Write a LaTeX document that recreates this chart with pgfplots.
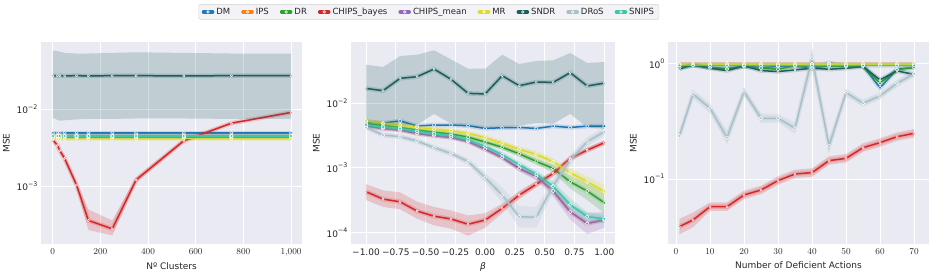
\documentclass[border=0pt]{standalone}
\usepackage{fontspec}
\setmainfont{DejaVu Sans}
\usepackage{pgfplots}
\usepackage{pgfplotstable}
\pgfplotsset{compat=1.18}

\definecolor{bgc}{HTML}{EAEAF2}
\definecolor{cDM}{HTML}{1F77B4}
\definecolor{cIPS}{HTML}{FF7F0E}
\definecolor{cDR}{HTML}{2CA02C}
\definecolor{cCB}{HTML}{D62728}
\definecolor{cCM}{HTML}{9467BD}
\definecolor{cMR}{HTML}{DBDB2A}
\definecolor{cSN}{HTML}{1B5E5C}
\definecolor{cRO}{HTML}{A8C0C8}
\definecolor{cSP}{HTML}{3CC7A8}
\definecolor{txt}{HTML}{262626}

\pgfplotstableread{
x dm ips dr cb cm mr sn ro sp
1    0.0049 0.0046 0.0043 0.0040  0.0045 0.00415 0.0273 0.0044 0.0045
20   0.0049 0.0046 0.0043 0.0034  0.0045 0.00415 0.0272 0.0044 0.0045
30   0.0049 0.0046 0.0043 0.0029  0.0045 0.00415 0.0273 0.0044 0.0045
50   0.0049 0.0046 0.0043 0.0023  0.0045 0.00415 0.0272 0.0044 0.0045
100  0.0049 0.0046 0.0043 0.00104 0.0045 0.00415 0.0273 0.0044 0.0045
150  0.0049 0.0046 0.0043 0.00036 0.0045 0.00415 0.0272 0.0044 0.0045
250  0.0049 0.0046 0.0043 0.00028 0.0045 0.00415 0.0273 0.0044 0.0045
350  0.0049 0.0046 0.0043 0.00121 0.0045 0.00415 0.0273 0.0044 0.0045
550  0.0049 0.0046 0.0043 0.0039  0.0045 0.00415 0.0272 0.0044 0.0045
750  0.0049 0.0046 0.0043 0.0066  0.0045 0.00415 0.0273 0.0044 0.0045
1000 0.0049 0.0046 0.0043 0.0091  0.0045 0.00415 0.0273 0.0044 0.0045
}\Pone

\pgfplotstableread{
x dm ips dr cb cm mr sn ro sp
-1     0.00515 0.00442  0.00486 0.00043  0.00442  0.00528 0.0168 0.00422  0.00458
-0.857 0.0049  0.00406  0.00452 0.00033  0.00406  0.00486 0.0155 0.00321  0.00425
-0.714 0.0053  0.00385  0.00422 0.0003   0.00385  0.00458 0.024  0.00303  0.00405
-0.571 0.00442 0.0034   0.00385 0.000216 0.0034   0.00422 0.0255 0.0026   0.00365
-0.429 0.00458 0.00314  0.00356 0.00018  0.00314  0.00393 0.0334 0.00205  0.00335
-0.286 0.00458 0.00296  0.00333 0.000163 0.00296  0.00374 0.0232 0.00167  0.00315
-0.143 0.00447 0.00256  0.00298 0.000135 0.00256  0.0034  0.0141 0.00125  0.0027
0      0.00406 0.00195  0.0025  0.000157 0.00195  0.00292 0.0138 0.00071  0.00215
0.143  0.00416 0.00145  0.00208 0.000237 0.00145  0.00239 0.0264 0.00038  0.0016
0.286  0.0042  0.00098  0.00165 0.00038  0.00098  0.00193 0.0185 0.000177 0.00112
0.429  0.00406 0.00074  0.00126 0.00056  0.00074  0.00161 0.0211 0.000173 0.0008
0.571  0.0044  0.00044  0.00098 0.00082  0.00044  0.00124 0.0208 0.00053  0.00052
0.714  0.0042  0.00021  0.00061 0.0014   0.00021  0.00084 0.0294 0.00132  0.00027
0.857  0.0044  0.000139 0.00044 0.00188  0.000139 0.00061 0.0183 0.00254  0.000177
1      0.0044  0.000158 0.00029 0.00244  0.000158 0.00043 0.0203 0.00361  0.000164
}\Ptwo

\pgfplotstableread{
x dm ips dr cb cm mr sn ro sp
1  0.93 0.995 0.93  0.0385 0.99 1.0 0.905 0.237 0.97
5  0.98 0.995 0.97  0.044  0.99 1.0 0.98  0.548 0.97
10 0.93 0.995 0.93  0.0574 0.99 1.0 0.917 0.412 0.97
15 0.91 0.995 0.90  0.0574 0.99 1.0 0.875 0.229 0.97
20 0.96 0.995 0.95  0.0726 0.99 1.0 0.961 0.574 0.97
25 0.93 0.995 0.92  0.0802 0.99 1.0 0.875 0.337 0.97
30 0.95 0.995 0.90  0.0968 0.99 1.0 0.858 0.337 0.97
35 0.96 0.995 0.96  0.1105 0.99 1.0 0.887 0.276 0.97
40 0.93 0.995 0.92  0.1135 0.99 1.0 0.917 1.12  0.97
45 1.02 0.995 0.96  0.1443 0.99 1.0 0.899 0.194 0.97
50 0.96 0.995 0.95  0.151  0.99 1.0 0.917 0.563 0.97
55 0.96 0.995 0.96  0.187  0.99 1.0 0.948 0.455 0.97
60 0.62 0.995 0.68  0.207  0.99 1.0 0.726 0.527 0.97
65 0.90 0.995 0.89  0.233  0.99 1.0 0.87  0.679 0.97
70 0.93 0.995 0.935 0.249  0.99 1.0 0.81  0.82  0.97
}\Pthree

% line with a soft underlay (thin confidence band)
\newcommand{\ser}[4]{%
  \addplot[#3, line width=4.5pt, opacity=0.18, forget plot] table[x=x,y=#2]{#1};
  \addplot[#3, line width=1.5pt, mark=*, mark size=#4,
    mark options={fill=#3, draw=white, line width=0.45pt}] table[x=x,y=#2]{#1};
}
\newcommand{\band}[2]{\addplot[fill=#1, fill opacity=0.2, draw=none, forget plot] coordinates {#2};}

\pgfplotsset{every axis/.append style={
  scale only axis, height=202pt, anchor=south west,
  axis background/.style={fill=bgc},
  axis line style={draw=none}, major tick length=0pt, minor tick length=0pt,
  xmajorgrids, ymajorgrids, major grid style={white, line width=0.8pt},
  tick label style={font=\fontsize{9}{10.5}\selectfont, text=txt},
  label style={font=\fontsize{9}{10.5}\selectfont, text=txt},
  xticklabel style={yshift=-1pt},
  ylabel={MSE},
}}

\begin{document}
\begin{tikzpicture}
\path[use as bounding box] (0pt,0pt) rectangle (934pt,274pt);

% ---------------- Panel 1 ----------------
\begin{axis}[ymode=log, at={(41pt,30pt)}, width=261pt,
  xmin=-49, xmax=1046, ymin=1.78e-4, ymax=0.0748,
  xtick={0,200,400,600,800,1000},
  ytick={0.001,0.01},
  yticklabels={10\raisebox{0.5em}{\fontsize{6.3}{6.3}\selectfont −3},10\raisebox{0.5em}{\fontsize{6.3}{6.3}\selectfont −2}},
  xlabel={Nº Clusters}]
\ser{\Pone}{dm}{cDM}{1.7pt}
\ser{\Pone}{ips}{cIPS}{1.7pt}
\ser{\Pone}{dr}{cDR}{1.7pt}
\band{cCB}{(1,0.0042)(20,0.0036)(30,0.0031)(50,0.0025)(100,0.00114)(150,0.0005)(250,0.00036)(350,0.00131)(550,0.0041)(750,0.0068)(1000,0.0093)
 (1000,0.0089)(750,0.0064)(550,0.0037)(350,0.00112)(250,0.00023)(150,0.00027)(100,0.00095)(50,0.0021)(30,0.0027)(20,0.0032)(1,0.0038)}
\ser{\Pone}{cb}{cCB}{1.1pt}
\ser{\Pone}{cm}{cCM}{1.7pt}
\ser{\Pone}{mr}{cMR}{1.7pt}
\band{cSN}{(1,0.058)(20,0.057)(30,0.056)(50,0.054)(100,0.053)(150,0.053)(250,0.054)(350,0.055)(550,0.054)(750,0.053)(1000,0.053)
 (1000,0.0075)(750,0.0075)(550,0.0076)(350,0.0076)(250,0.0075)(150,0.0075)(100,0.0074)(50,0.0072)(30,0.0071)(20,0.0073)(1,0.0077)}
\ser{\Pone}{sn}{cSN}{1.1pt}
\ser{\Pone}{ro}{cRO}{1.7pt}
\ser{\Pone}{sp}{cSP}{1.7pt}
\end{axis}

% ---------------- Panel 2 ----------------
\begin{axis}[ymode=log, at={(351pt,30pt)}, width=264pt,
  xmin=-1.126, xmax=1.09, ymin=6.7e-5, ymax=0.0873,
  xtick={-1,-0.75,-0.5,-0.25,0,0.25,0.5,0.75,1},
  xticklabels={−1.00,−0.75,−0.50,−0.25,0.00,0.25,0.50,0.75,1.00},
  ytick={0.0001,0.001,0.01},
  yticklabels={10\raisebox{0.5em}{\fontsize{6.3}{6.3}\selectfont −4},10\raisebox{0.5em}{\fontsize{6.3}{6.3}\selectfont −3},10\raisebox{0.5em}{\fontsize{6.3}{6.3}\selectfont −2}},
  xlabel={\itshape β},
  legend columns=9,
  legend style={at={(0.295,1.149)}, anchor=center, draw=black!18, fill=bgc!60!white,
    rounded corners=2pt, font=\fontsize{8.5}{10}\selectfont, text=txt,
    inner xsep=3pt, inner ysep=1.5pt,
    /tikz/every even column/.append style={column sep=9pt}},
  legend image code/.code={%
    \draw[#1, mark=none, line width=3.6pt, line cap=round] (0pt,0pt) -- (9pt,0pt);
    \draw[white, line width=0.6pt] (4.5pt,0pt) circle (1.3pt);}]
\ser{\Ptwo}{dm}{cDM}{1.7pt}\addlegendentry{DM}
\ser{\Ptwo}{ips}{cIPS}{1.7pt}\addlegendentry{IPS}
\band{cDR}{(-1,0.00515)(-0.857,0.00479)(-0.714,0.00447)(-0.571,0.00408)(-0.429,0.00377)(-0.286,0.00353)(-0.143,0.00316)(0,0.00268)(0.143,0.00225)(0.286,0.0018)(0.429,0.0014)(0.571,0.00112)(0.714,0.00075)(0.857,0.00058)(1,0.0004)
 (1,0.0002)(0.857,0.00032)(0.714,0.00048)(0.571,0.00085)(0.429,0.00112)(0.286,0.0015)(0.143,0.00192)(0,0.00233)(-0.143,0.0028)(-0.286,0.00313)(-0.429,0.00335)(-0.571,0.00362)(-0.714,0.00397)(-0.857,0.00425)(-1,0.00457)}
\ser{\Ptwo}{dr}{cDR}{1.7pt}\addlegendentry{DR}
\band{cCB}{(-1,0.00056)(-0.857,0.00045)(-0.714,0.00042)(-0.571,0.0003)(-0.429,0.00025)(-0.286,0.00022)(-0.143,0.000185)(0,0.0002)(0.143,0.00028)(0.286,0.00044)(0.429,0.00063)(0.571,0.0009)(0.714,0.00153)(0.857,0.00205)(1,0.00265)
 (1,0.00225)(0.857,0.00173)(0.714,0.00128)(0.571,0.00074)(0.429,0.0005)(0.286,0.00033)(0.143,0.0002)(0,0.00012)(-0.143,0.00009)(-0.286,0.000115)(-0.429,0.00013)(-0.571,0.000165)(-0.714,0.00023)(-0.857,0.00025)(-1,0.00032)}
\ser{\Ptwo}{cb}{cCB}{1.1pt}\addlegendentry{CHIPS\_bayes}
\band{cCM}{(-1,0.00469)(-0.857,0.0043)(-0.714,0.00408)(-0.571,0.0036)(-0.429,0.00333)(-0.286,0.00314)(-0.143,0.00272)(0,0.00209)(0.143,0.00158)(0.286,0.00109)(0.429,0.00085)(0.571,0.00054)(0.714,0.00028)(0.857,0.0002)(1,0.00021)
 (1,0.00012)(0.857,0.000095)(0.714,0.00016)(0.571,0.00036)(0.429,0.00064)(0.286,0.00088)(0.143,0.00133)(0,0.00181)(-0.143,0.0024)(-0.286,0.00278)(-0.429,0.00295)(-0.571,0.0032)(-0.714,0.00362)(-0.857,0.00382)(-1,0.00415)}
\ser{\Ptwo}{cm}{cCM}{1.7pt}\addlegendentry{CHIPS\_mean}
\band{cMR}{(-1,0.00565)(-0.857,0.0052)(-0.714,0.0049)(-0.571,0.00452)(-0.429,0.00421)(-0.286,0.004)(-0.143,0.00364)(0,0.00321)(0.143,0.00263)(0.286,0.00212)(0.429,0.00182)(0.571,0.0014)(0.714,0.00099)(0.857,0.00074)(1,0.00055)
 (1,0.00034)(0.857,0.00048)(0.714,0.00069)(0.571,0.00108)(0.429,0.0014)(0.286,0.00174)(0.143,0.00215)(0,0.00263)(-0.143,0.00316)(-0.286,0.00348)(-0.429,0.00365)(-0.571,0.00392)(-0.714,0.00426)(-0.857,0.00452)(-1,0.00491)}
\ser{\Ptwo}{mr}{cMR}{1.7pt}\addlegendentry{MR}
\band{cSN}{(-1,0.039)(-0.857,0.036)(-0.714,0.053)(-0.571,0.0556)(-0.429,0.065)(-0.286,0.047)(-0.143,0.0338)(0,0.0338)(0.143,0.0556)(0.286,0.04)(0.429,0.0445)(0.571,0.0456)(0.714,0.059)(0.857,0.0414)(1,0.043)
 (1,0.004)(0.857,0.0042)(0.714,0.0068)(0.571,0.0048)(0.429,0.0049)(0.286,0.0045)(0.143,0.0041)(0,0.004)(-0.143,0.0044)(-0.286,0.0048)(-0.429,0.0068)(-0.571,0.0046)(-0.714,0.0045)(-0.857,0.0045)(-1,0.0042)}
\ser{\Ptwo}{sn}{cSN}{1.1pt}\addlegendentry{SNDR}
\band{cRO}{(-1,0.00455)(-0.857,0.00347)(-0.714,0.00327)(-0.571,0.00282)(-0.429,0.00223)(-0.286,0.00183)(-0.143,0.00139)(0,0.00085)(0.143,0.0005)(0.286,0.00026)(0.429,0.00025)(0.571,0.00066)(0.714,0.0016)(0.857,0.003)(1,0.0042)
 (1,0.0031)(0.857,0.00215)(0.714,0.0011)(0.571,0.00042)(0.429,0.00012)(0.286,0.00012)(0.143,0.00029)(0,0.0006)(-0.143,0.00112)(-0.286,0.00151)(-0.429,0.00187)(-0.571,0.00238)(-0.714,0.00279)(-0.857,0.00295)(-1,0.0039)}
\ser{\Ptwo}{ro}{cRO}{1.7pt}\addlegendentry{DRoS}
\band{cSP}{(-1,0.00486)(-0.857,0.0045)(-0.714,0.00429)(-0.571,0.00387)(-0.429,0.00355)(-0.286,0.00334)(-0.143,0.00286)(0,0.0023)(0.143,0.00173)(0.286,0.00123)(0.429,0.0009)(0.571,0.00062)(0.714,0.00034)(0.857,0.00021)(1,0.00019)
 (1,0.00014)(0.857,0.00015)(0.714,0.00022)(0.571,0.00044)(0.429,0.00071)(0.286,0.00101)(0.143,0.00147)(0,0.002)(-0.143,0.00254)(-0.286,0.00296)(-0.429,0.00315)(-0.571,0.00343)(-0.714,0.00381)(-0.857,0.004)(-1,0.0043)}
\ser{\Ptwo}{sp}{cSP}{1.7pt}\addlegendentry{SNIPS}
\end{axis}

% ---------------- Panel 3 ----------------
\begin{axis}[ymode=log, at={(668pt,30pt)}, width=261pt,
  xmin=-2.35, xmax=74.4, ymin=0.0272, ymax=1.55,
  xtick={0,10,20,30,40,50,60,70},
  ytick={0.1,1},
  yticklabels={10\raisebox{0.5em}{\fontsize{6.3}{6.3}\selectfont −1},10\raisebox{0.5em}{\fontsize{6.3}{6.3}\selectfont 0}},
  xlabel={Number of Deficient Actions}]
\ser{\Pthree}{dm}{cDM}{1.7pt}
\ser{\Pthree}{ips}{cIPS}{1.7pt}
\ser{\Pthree}{dr}{cDR}{1.7pt}
\band{cCB}{(1,0.045)(5,0.051)(10,0.0626)(15,0.0626)(20,0.0791)(25,0.0874)(30,0.1055)(35,0.1204)(40,0.1237)(45,0.1573)(50,0.1646)(55,0.2038)(60,0.2256)(65,0.254)(70,0.2714)
 (70,0.2291)(65,0.2144)(60,0.1904)(55,0.172)(50,0.1389)(45,0.1328)(40,0.1044)(35,0.1017)(30,0.089)(25,0.0738)(20,0.0668)(15,0.0528)(10,0.0528)(5,0.038)(1,0.033)}
\ser{\Pthree}{cb}{cCB}{1.1pt}
\ser{\Pthree}{cm}{cCM}{1.7pt}
\ser{\Pthree}{mr}{cMR}{1.7pt}
\ser{\Pthree}{sn}{cSN}{1.1pt}
\band{cRO}{(1,0.262)(5,0.6)(10,0.452)(15,0.262)(20,0.628)(25,0.372)(30,0.366)(35,0.31)(40,1.35)(45,0.222)(50,0.61)(55,0.488)(60,0.567)(65,0.73)(70,0.87)
 (70,0.77)(65,0.63)(60,0.49)(55,0.425)(50,0.52)(45,0.17)(40,0.9)(35,0.245)(30,0.31)(25,0.305)(20,0.525)(15,0.2)(10,0.375)(5,0.5)(1,0.215)}
\ser{\Pthree}{ro}{cRO}{1.7pt}
\ser{\Pthree}{sp}{cSP}{1.7pt}
\end{axis}
\end{tikzpicture}
\end{document}
